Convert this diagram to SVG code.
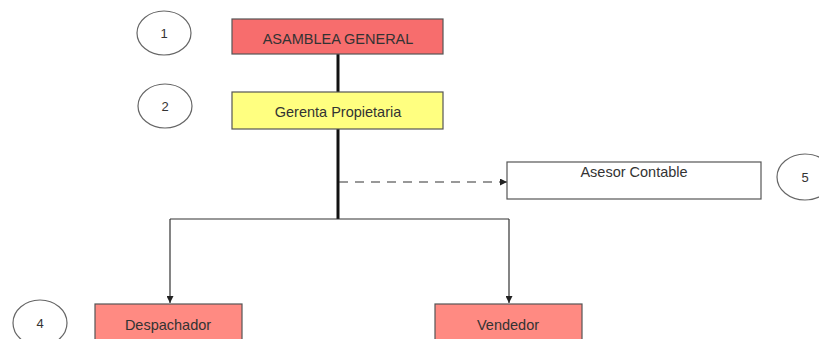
<svg xmlns="http://www.w3.org/2000/svg" width="819" height="339" viewBox="0 0 819 339">
<defs>
<style>
.box{stroke:#555;stroke-width:1.2}
.circ{fill:#fff;stroke:#666;stroke-width:1.2}
.t{font-family:"Liberation Sans",Arial,sans-serif;font-size:14.5px;fill:#333;text-anchor:middle}
.n{font-family:"Liberation Sans",Arial,sans-serif;font-size:13px;fill:#333;text-anchor:middle}
.thick{stroke:#111;stroke-width:3;fill:none}
.thin{stroke:#333;stroke-width:1.2;fill:none}
</style>
<marker id="arr" viewBox="0 0 10 10" refX="10" refY="5" markerWidth="7" markerHeight="7" orient="auto" markerUnits="userSpaceOnUse">
<path d="M0,0 L10,5 L0,10 z" fill="#222"/>
</marker>
</defs>
<rect width="819" height="339" fill="#fff"/>
<g id="connectors">
<line class="thick" x1="338" y1="54" x2="338" y2="92"/>
<line class="thick" x1="338" y1="129" x2="338" y2="219"/>
<path class="thin" d="M170,219 H509"/>
<path class="thin" d="M170,219 V303" marker-end="url(#arr)"/>
<path class="thin" d="M509,219 V303" marker-end="url(#arr)"/>
<path class="thin" d="M339,182 H507" stroke-dasharray="9,7" marker-end="url(#arr)"/>
</g>
<g id="c1"><ellipse class="circ" cx="164" cy="33" rx="27" ry="22"/><text class="n" x="164" y="38">1</text></g>
<g id="c2"><ellipse class="circ" cx="165" cy="106" rx="27" ry="22"/><text class="n" x="165" y="111">2</text></g>
<g id="c4"><ellipse class="circ" cx="40" cy="323" rx="27" ry="23"/><text class="n" x="40" y="328">4</text></g>
<g id="c5"><ellipse class="circ" cx="805" cy="177" rx="28" ry="23"/><text class="n" x="805" y="182">5</text></g>
<g id="asamblea"><rect class="box" x="232" y="19" width="211" height="35" fill="#F76D6D"/><text class="t" x="338" y="44">ASAMBLEA GENERAL</text></g>
<g id="gerenta"><rect class="box" x="232" y="92" width="211" height="37" fill="#FFFF80"/><text class="t" x="338" y="117">Gerenta Propietaria</text></g>
<g id="asesor"><rect class="box" x="507" y="162" width="254" height="37" fill="#fff"/><text class="t" x="634" y="177">Asesor Contable</text></g>
<g id="despachador"><rect class="box" x="95" y="304" width="147" height="40" fill="#FF8A82"/><text class="t" x="168" y="330">Despachador</text></g>
<g id="vendedor"><rect class="box" x="435" y="304" width="147" height="40" fill="#FF8A82"/><text class="t" x="508" y="330">Vendedor</text></g>
</svg>
